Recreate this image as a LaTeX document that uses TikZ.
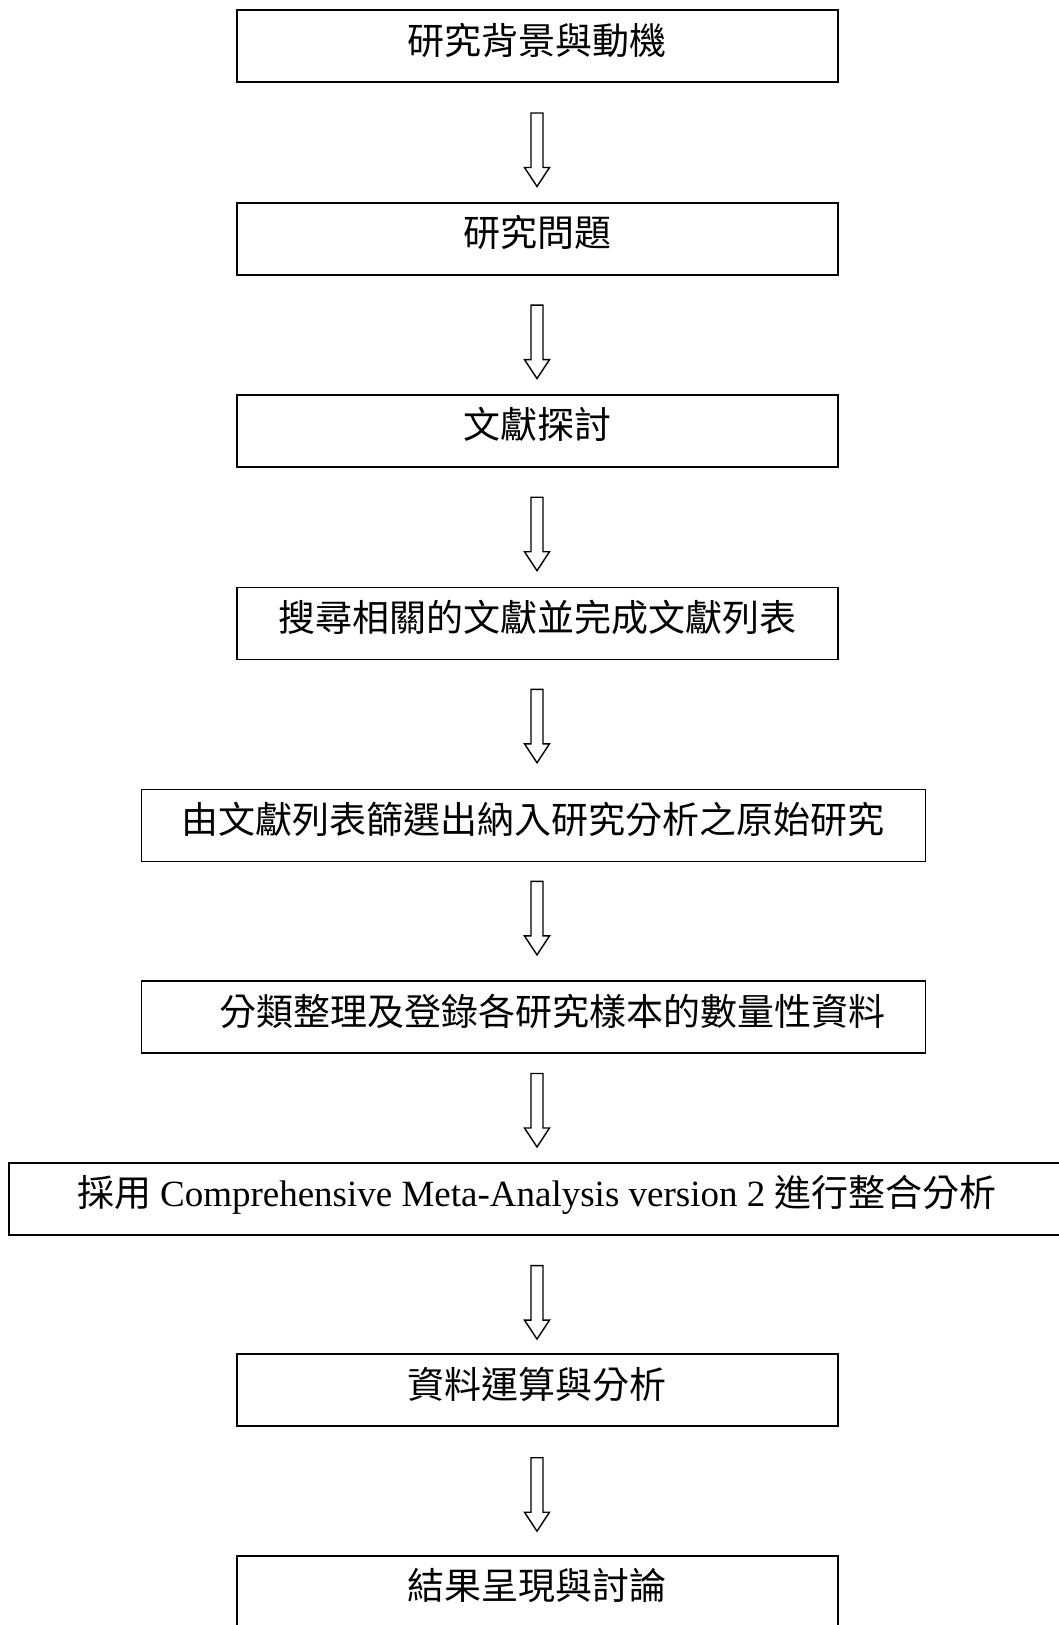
\documentclass[tikz,border=0pt]{standalone}
\usepackage{fontspec}
\setmainfont{Liberation Serif}
\newfontfamily\cjk{Noto Sans CJK TC}
\begin{document}
\begin{tikzpicture}[x=1pt,y=-1pt,
  box/.style={draw=black, line width=1.8pt, rectangle, inner sep=0pt, anchor=north west,
    minimum height=72, text height=30pt, text depth=14pt,
    font=\cjk\fontsize{37pt}{44pt}\selectfont},
  narrowbox/.style={box, minimum width=601},
  widebox/.style={box, minimum width=784},
  arr/.style={draw=black, line width=1.4pt, fill=white, line join=miter},
  blockarrow/.pic={\draw[arr] (-6,0) -- (6,0) -- (6,54.5) -- (12.5,54.5) -- (0,73.5) -- (-12.5,54.5) -- (-6,54.5) -- cycle;}]
\fill[white] (0,0) rectangle (1058,1625);
\useasboundingbox (0,0) rectangle (1058,1625);

\node[narrowbox] (b1) at (236,9.3) {研究背景與動機};
\node[narrowbox] (b2) at (236,202) {研究問題};
\node[narrowbox] (b3) at (236,393.7) {文獻探討};
\node[narrowbox] (b4) at (236,586.5) {搜尋相關的文獻並完成文獻列表};
\node[widebox] (b5) at (140.5,788.5) {由文獻列表篩選出納入研究分析之原始研究};
\node[widebox] (b6) at (140.5,980.2) {\hspace{38pt}分類整理及登錄各研究樣本的數量性資料};
\node[box, minimum width=1055] (b7) at (8.3,1161.7) {採用\hspace{9pt}{\rmfamily Comprehensive Meta-Analysis version 2}\hspace{9pt}進行整合分析};
\node[narrowbox] (b8) at (236,1353.4) {資料運算與分析};
\node[narrowbox] (b9) at (236,1555) {結果呈現與討論};

\coordinate (a1) at (537,113);
\coordinate (a2) at (537,305.1);
\coordinate (a3) at (537,497.2);
\coordinate (a4) at (537,689.3);
\coordinate (a5) at (537,881.4);
\coordinate (a6) at (537,1073.5);
\coordinate (a7) at (537,1265.6);
\coordinate (a8) at (537,1457.7);
\foreach \i in {1,...,8} {\pic at (a\i) {blockarrow};}
\end{tikzpicture}
\end{document}
